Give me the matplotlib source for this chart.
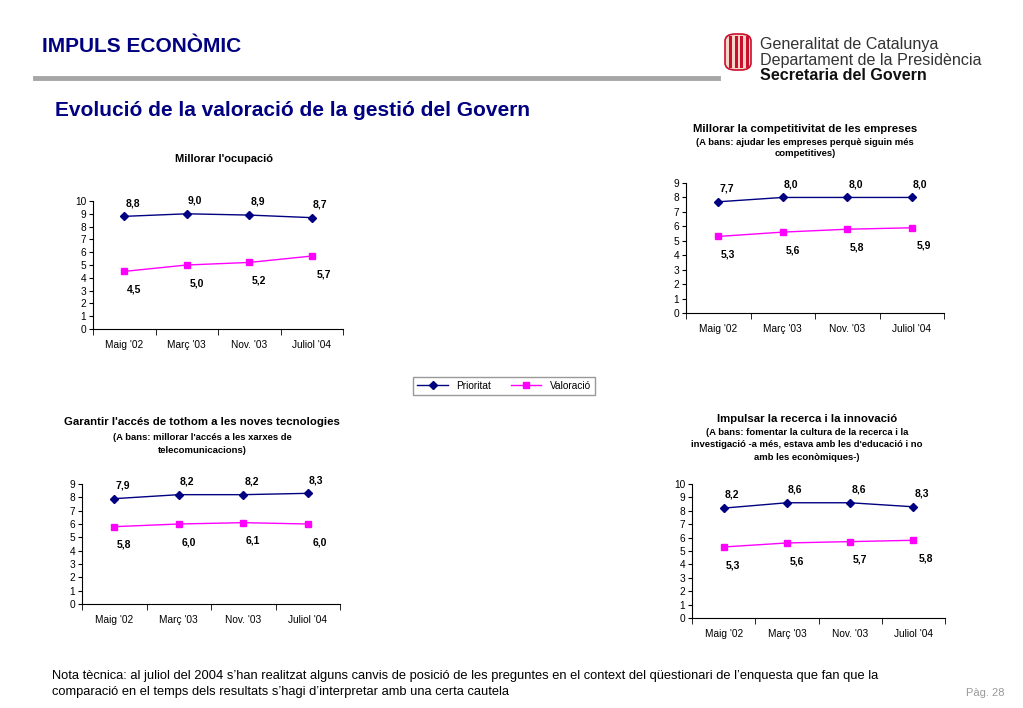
import matplotlib.pyplot as plt
import matplotlib.patches as mpatches
from matplotlib.lines import Line2D

plt.rcParams['font.family'] = ['Liberation Sans', 'DejaVu Sans']

W, H = 1023, 708
periodes = ["Maig '02", "Març '03", "Nov. '03", "Juliol '04"]

# valors llegits del grafic
ocupacio_prio = [8.8, 9.0, 8.9, 8.7]
ocupacio_val = [4.5, 5.0, 5.2, 5.7]
compet_prio = [7.7, 8.0, 8.0, 8.0]
compet_val = [5.3, 5.6, 5.8, 5.9]
tecno_prio = [7.9, 8.2, 8.2, 8.3]
tecno_val = [5.8, 6.0, 6.1, 6.0]
recerca_prio = [8.2, 8.6, 8.6, 8.3]
recerca_val = [5.3, 5.6, 5.7, 5.8]

navy = '#000080'
magenta = '#FF00FF'

fig = plt.figure(figsize=(W / 100, H / 100), dpi=100)


def fx(px):
    return px / W


def fy(py):
    return 1 - py / H


def axes_px(left, right, y0, ytop):
    return fig.add_axes([fx(left), fy(y0), (right - left) / W, (y0 - ytop) / H])


def chart(ax, prio, val, ymax):
    x = range(len(periodes))
    ax.plot(x, prio, color=navy, marker='D', markersize=4, lw=1)
    ax.plot(x, val, color=magenta, marker='s', markersize=5, lw=1)
    for i in x:
        ax.annotate(f"{prio[i]:.1f}".replace('.', ','), (i, prio[i]), xytext=(6, 9.5),
                    textcoords='offset points', ha='center', va='center',
                    fontsize=7.5, fontweight='bold')
        dx = 9 if i == 3 else 7
        ax.annotate(f"{val[i]:.1f}".replace('.', ','), (i, val[i]), xytext=(dx, -13),
                    textcoords='offset points', ha='center', va='center',
                    fontsize=7.5, fontweight='bold')
    ax.set_xlim(-0.5, 3.5)
    ax.set_ylim(0, ymax)
    ax.set_yticks(range(ymax + 1))
    ax.set_xticks(list(x))
    ax.set_xticklabels(periodes)
    ax.set_xticks([-0.5, 0.5, 1.5, 2.5, 3.5], minor=True)
    ax.tick_params(axis='x', which='major', length=0, labelsize=7.3, pad=8)
    ax.tick_params(axis='x', which='minor', length=4, direction='out')
    ax.tick_params(axis='y', length=3, labelsize=7.3, pad=2)
    for s in ['top', 'right']:
        ax.spines[s].set_visible(False)
    for s in ['left', 'bottom']:
        ax.spines[s].set_linewidth(0.8)


ax1 = axes_px(93, 343, 329, 201)
chart(ax1, ocupacio_prio, ocupacio_val, 10)
ax2 = axes_px(686, 944, 313, 183)
chart(ax2, compet_prio, compet_val, 9)
ax3 = axes_px(82, 340, 604, 484)
chart(ax3, tecno_prio, tecno_val, 9)
ax4 = axes_px(692, 945, 618, 484)
chart(ax4, recerca_prio, recerca_val, 10)

# titols dels grafics
fig.text(fx(224), fy(159), "Millorar l'ocupació", ha='center', va='center', fontsize=8, fontweight='bold')
fig.text(fx(805), fy(129), "Millorar la competitivitat de les empreses", ha='center', va='center',
         fontsize=8.2, fontweight='bold')
fig.text(fx(805), fy(148), "(A bans: ajudar les empreses perquè siguin més\ncompetitives)", ha='center',
         va='center', fontsize=6.8, fontweight='bold', linespacing=1.4)
fig.text(fx(202), fy(422), "Garantir l'accés de tothom a les noves tecnologies", ha='center', va='center',
         fontsize=8.2, fontweight='bold')
fig.text(fx(202), fy(444), "(A bans: millorar l'accés a les xarxes de\ntelecomunicacions)", ha='center',
         va='center', fontsize=6.8, fontweight='bold', linespacing=1.45)
fig.text(fx(807), fy(419), "Impulsar la recerca i la innovació", ha='center', va='center',
         fontsize=8.2, fontweight='bold')
fig.text(fx(807), fy(445), "(A bans: fomentar la cultura de la recerca i la\ninvestigació -a més, estava amb les d'educació i no\namb les econòmiques-)",
         ha='center', va='center', fontsize=6.8, fontweight='bold', linespacing=1.45)

# llegenda
handles = [Line2D([], [], color=navy, marker='D', markersize=4, lw=1),
           Line2D([], [], color=magenta, marker='s', markersize=5, lw=1)]
fig.legend(handles, ['Prioritat', 'Valoració'], loc='center', bbox_to_anchor=(fx(504), fy(386)),
           ncol=2, fontsize=7.3, frameon=True, fancybox=False, edgecolor='#808080',
           handlelength=3, columnspacing=2, borderpad=0.4)

# capcalera
fig.text(fx(42), fy(47), "IMPULS ECONÒMIC", ha='left', va='center', fontsize=15,
         fontweight='bold', color=navy)
fig.add_artist(Line2D([fx(35), fx(718)], [fy(78), fy(78)], color='#A6A6A6', lw=3.5))
fig.text(fx(55), fy(110), "Evolució de la valoració de la gestió del Govern", ha='left', va='center',
         fontsize=15, fontweight='bold', color=navy)

# logotip
fig.add_artist(mpatches.FancyBboxPatch((fx(725), fy(70)), fx(26), (70 - 34) / H,
                                       boxstyle='round,pad=0,rounding_size=0.01',
                                       facecolor='#F6D6C8', edgecolor='#C8102E', lw=1.2))
for k in range(4):
    fig.add_artist(mpatches.Rectangle((fx(729 + k * 5.5), fy(68)), fx(3), (68 - 36) / H,
                                      facecolor='#C8102E', edgecolor='none'))
fig.text(fx(760), fy(44), "Generalitat de Catalunya", ha='left', va='center', fontsize=11.6, color='#333333')
fig.text(fx(760), fy(60), "Departament de la Presidència", ha='left', va='center', fontsize=11.6, color='#333333')
fig.text(fx(760), fy(76), "Secretaria del Govern", ha='left', va='center', fontsize=11.6,
         fontweight='bold', color='#111111')

# peu
fig.text(fx(52), fy(684), "Nota tècnica: al juliol del 2004 s’han realitzat alguns canvis de posició de les preguntes en el context del qüestionari de l’enquesta que fan que la\ncomparació en el temps dels resultats s’hagi d’interpretar amb una certa cautela",
         ha='left', va='center', fontsize=9.3, linespacing=1.42)
fig.text(fx(1005), fy(693), "Pàg. 28", ha='right', va='center', fontsize=8, color='#999999')

fig.savefig('out.png', dpi=100)
